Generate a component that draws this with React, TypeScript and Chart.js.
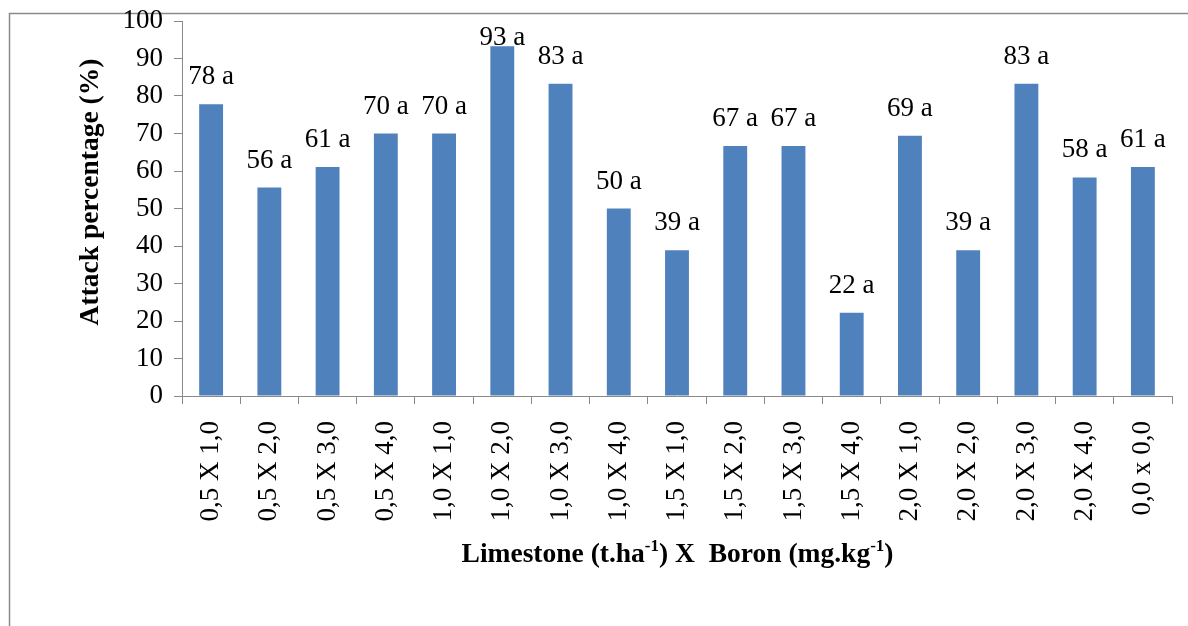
import React, { useEffect, useRef } from "react";
import { Chart, registerables } from "chart.js";

Chart.register(...registerables);

const categories = [
  "0,5 X 1,0", "0,5 X 2,0", "0,5 X 3,0", "0,5 X 4,0",
  "1,0 X 1,0", "1,0 X 2,0", "1,0 X 3,0", "1,0 X 4,0",
  "1,5 X 1,0", "1,5 X 2,0", "1,5 X 3,0", "1,5 X 4,0",
  "2,0 X 1,0", "2,0 X 2,0", "2,0 X 3,0", "2,0 X 4,0",
  "0,0 x 0,0",
];
const attackValues = [77.8, 55.6, 61.1, 70.0, 70.0, 93.3, 83.3, 50.0, 38.9, 66.7, 66.7, 22.2, 69.4, 38.9, 83.3, 58.3, 61.1];
const valueLabels = ["78 a", "56 a", "61 a", "70 a", "70 a", "93 a", "83 a", "50 a", "39 a", "67 a", "67 a", "22 a", "69 a", "39 a", "83 a", "58 a", "61 a"];
const yTitle = "Attack percentage (%)";
const xTitleParts: [string, boolean][] = [
  ["Limestone (t.ha", false],
  ["-1", true],
  [") X  Boron (mg.kg", false],
  ["-1", true],
  [")", false],
];

const SERIF = "'Liberation Serif', 'Times New Roman', serif";
const BAR_COLOR = "#4F81BD";
const AXIS_COLOR = "#898989";

export default function App() {
  const ref = useRef<HTMLCanvasElement | null>(null);

  useEffect(() => {
    const canvas = ref.current;
    if (!canvas) return;

    const framePlugin = {
      id: "frame",
      beforeDraw(chart: any) {
        const ctx = chart.ctx;
        ctx.save();
        ctx.strokeStyle = "#8a8a8a";
        ctx.lineWidth = 1.5;
        ctx.beginPath();
        ctx.moveTo(9.5, 626);
        ctx.lineTo(9.5, 13.5);
        ctx.lineTo(1188, 13.5);
        ctx.stroke();
        ctx.restore();
      },
    };

    const labelsPlugin = {
      id: "valueLabels",
      afterDatasetsDraw(chart: any) {
        const ctx = chart.ctx;
        const meta = chart.getDatasetMeta(0);
        ctx.save();
        ctx.font = `27px ${SERIF}`;
        ctx.fillStyle = "#000";
        ctx.textAlign = "center";
        ctx.textBaseline = "alphabetic";
        meta.data.forEach((bar: any, i: number) => {
          const y = Math.max(bar.y - 20, 45);
          ctx.fillText(valueLabels[i], bar.x, y);
        });
        ctx.restore();
      },
    };

    const titlesPlugin = {
      id: "axisTitles",
      afterDraw(chart: any) {
        const ctx = chart.ctx;
        ctx.save();
        ctx.fillStyle = "#000";
        ctx.translate(91, 192);
        ctx.rotate(-Math.PI / 2);
        ctx.font = `bold 27.5px ${SERIF}`;
        ctx.textAlign = "center";
        ctx.textBaseline = "middle";
        ctx.fillText(yTitle, 0, 0);
        ctx.restore();

        ctx.save();
        ctx.fillStyle = "#000";
        ctx.textAlign = "left";
        ctx.textBaseline = "alphabetic";
        const mainFont = `bold 27.5px ${SERIF}`;
        const supFont = `bold 17px ${SERIF}`;
        let total = 0;
        xTitleParts.forEach(([t, sup]) => {
          ctx.font = sup ? supFont : mainFont;
          total += ctx.measureText(t).width;
        });
        const cx = 677.5;
        let x = cx - total / 2;
        const baseline = 562;
        xTitleParts.forEach(([t, sup]) => {
          ctx.font = sup ? supFont : mainFont;
          ctx.fillText(t, x, sup ? baseline - 11 : baseline);
          x += ctx.measureText(t).width;
        });
        ctx.restore();
      },
    };

    const chart = new Chart(canvas, {
      type: "bar",
      data: {
        labels: categories,
        datasets: [
          {
            data: attackValues,
            backgroundColor: BAR_COLOR,
            borderWidth: 0,
            categoryPercentage: 1,
            barPercentage: 0.41,
          },
        ],
      },
      options: {
        responsive: false,
        animation: false,
        layout: { padding: { top: 21, right: 16, left: 0, bottom: 0 } },
        plugins: {
          legend: { display: false },
          tooltip: { enabled: false },
          title: { display: false },
        },
        scales: {
          x: {
            afterFit(scale: any) {
              scale.height = 230;
              scale.paddingLeft = 0;
              scale.paddingRight = 0;
            },
            grid: {
              offset: true,
              drawOnChartArea: false,
              drawTicks: true,
              tickLength: 8,
              color: AXIS_COLOR,
            },
            border: { display: true, color: AXIS_COLOR, width: 1 },
            ticks: {
              autoSkip: false,
              maxRotation: 90,
              minRotation: 90,
              padding: 17,
              color: "#000",
              font: { family: SERIF, size: 27 },
            },
          },
          y: {
            min: 0,
            max: 100,
            afterFit(scale: any) {
              scale.width = 182;
              scale.paddingTop = 0;
              scale.paddingBottom = 0;
            },
            grid: {
              drawOnChartArea: false,
              drawTicks: true,
              tickLength: 8,
              color: AXIS_COLOR,
            },
            border: { display: true, color: AXIS_COLOR, width: 1 },
            ticks: {
              stepSize: 10,
              padding: 11,
              color: "#000",
              font: { family: SERIF, size: 27 },
            },
          },
        },
      },
      plugins: [framePlugin, labelsPlugin, titlesPlugin],
    } as any);

    return () => chart.destroy();
  }, []);

  return (
    <div style={{ position: "fixed", left: 0, top: 0, width: 1188, height: 626, background: "#fff" }}>
      <canvas ref={ref} width={1188} height={626} style={{ display: "block" }} />
    </div>
  );
}
